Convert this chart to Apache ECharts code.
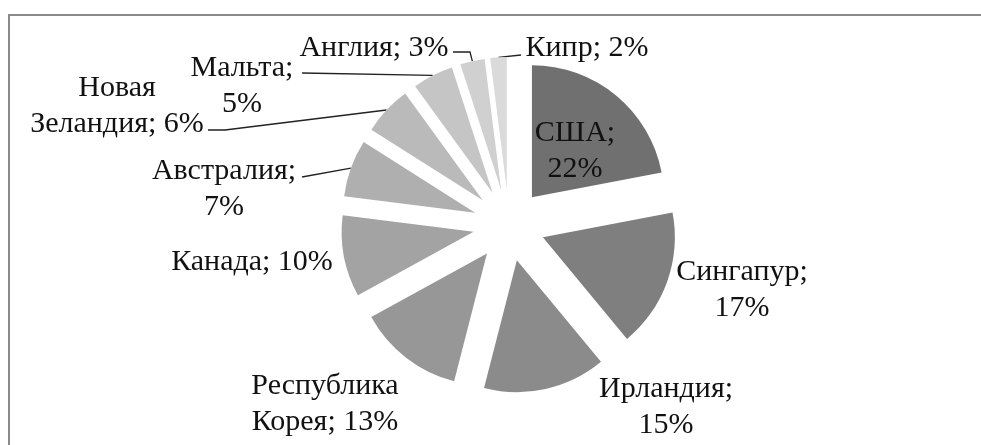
<!DOCTYPE html>
<html>
<head>
<meta charset="utf-8">
<script src="https://cdn.jsdelivr.net/npm/echarts@6/dist/echarts.min.js"></script>
<style>
  html, body { margin: 0; padding: 0; background: #fff; }
  #chart { width: 981px; height: 445px; }
</style>
</head>
<body>
<div id="chart"></div>
<script>
// countries and their share, %
const countries = ['США', 'Сингапур', 'Ирландия', 'Республика Корея', 'Канада',
  'Австралия', 'Новая Зеландия', 'Мальта', 'Англия', 'Кипр'];
const shares = [22, 17, 15, 13, 10, 7, 6, 5, 3, 2];

// grey shades, darkest first
const shades = ['#707070', '#7f7f7f', '#8b8b8b', '#979797', '#a3a3a3',
  '#afafaf', '#bababa', '#c5c5c5', '#d0d0d0', '#dadada'];

// how each label is wrapped: 'sep' = new line after ';', 'name' = inside the name
const wraps = ['sep', 'sep', 'sep', 'name', 'none', 'sep', 'name', 'sep', 'none', 'none'];

// where the labels sit (centre of text) and where their leader line ends
const labelSpots = [
  { x: 575, y: 151 },
  { x: 742, y: 290 },
  { x: 666, y: 407 },
  { x: 325, y: 404 },
  { x: 252, y: 262 },
  { x: 224, y: 189, line: [302, 177] },
  { x: 117, y: 106, line: [208, 130], bend: [225, 130] },
  { x: 242, y: 86, line: [302, 73] },
  { x: 374, y: 48, line: [453, 52], bend: [470, 52] },
  { x: 587, y: 48, line: [521, 55] }
];

const CENTER = [509, 225];
const RADIUS = 132;
const EXPLODE = 36;

const chart = echarts.init(document.getElementById('chart'));

function labelText(i) {
  const name = countries[i];
  const pct = shares[i] + '%';
  if (wraps[i] == 'sep') return name + ';\n' + pct;
  if (wraps[i] == 'name') return name.replace(' ', '\n') + '; ' + pct;
  return name + '; ' + pct;
}

const labelFont = {
  fontFamily: 'Liberation Serif',
  fontSize: 30,
  lineHeight: 36,
  color: '#111',
  textAlign: 'center'
};

// exploded slices, no text
const sliceData = countries.map((c, i) => ({
  name: c,
  value: shares[i],
  selected: true,
  itemStyle: { color: shades[i] }
}));

// same pie, not exploded and invisible: it only carries the labels
const labelData = countries.map((c, i) => ({
  name: c,
  value: shares[i],
  label: i == 0 ? { position: 'inside', ...labelFont } : {},
  labelLine: { show: i >= 5 }
}));

const option = {
  animation: false,
  graphic: [{
    type: 'rect',
    shape: { x: 9, y: 15, width: 1000, height: 500 },
    style: { fill: 'none', stroke: '#8a8a8a', lineWidth: 2 },
    silent: true
  }],
  series: [
    {
      type: 'pie',
      center: CENTER,
      radius: RADIUS,
      startAngle: 90,
      clockwise: true,
      selectedMode: 'multiple',
      selectedOffset: EXPLODE,
      silent: true,
      emphasis: { disabled: true },
      label: { show: false },
      labelLine: { show: false },
      data: sliceData
    },
    {
      type: 'pie',
      center: CENTER,
      radius: RADIUS,
      startAngle: 90,
      clockwise: true,
      silent: true,
      avoidLabelOverlap: false,
      emphasis: { disabled: true },
      itemStyle: { color: 'rgba(0,0,0,0)' },
      label: {
        show: true,
        position: 'outside',
        ...labelFont,
        formatter: p => labelText(p.dataIndex)
      },
      labelLine: {
        length: 10,
        length2: 20,
        lineStyle: { color: '#222', width: 1.3 }
      },
      labelLayout: function (params) {
        const s = labelSpots[params.dataIndex];
        if (!s) return { hideOverlap: false };
        const out = {
          x: s.x,
          y: s.y,
          align: 'center',
          verticalAlign: 'middle',
          hideOverlap: false
        };
        if (s.line && params.labelLinePoints) {
          // move the start point out to the edge of the exploded slice
          const p0 = params.labelLinePoints[0];
          const k = (RADIUS + EXPLODE) / RADIUS;
          const start = [CENTER[0] + (p0[0] - CENTER[0]) * k, CENTER[1] + (p0[1] - CENTER[1]) * k];
          out.labelLinePoints = s.bend ? [start, s.bend, s.line] : [start, start, s.line];
        }
        return out;
      },
      data: labelData
    }
  ]
};
chart.setOption(option);
</script>
</body>
</html>
